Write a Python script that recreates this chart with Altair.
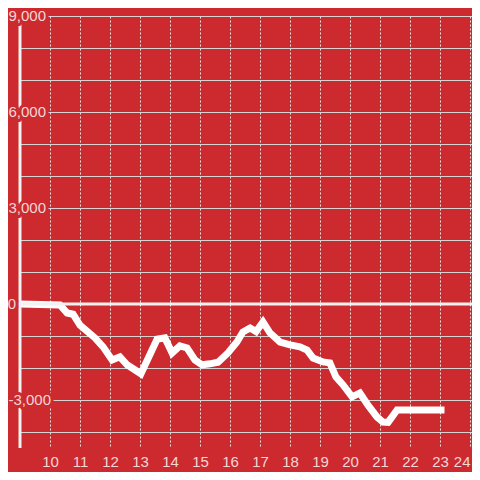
import altair as alt
import pandas as pd

# hours of day and cumulative value
hours = [9.0, 10.33, 10.57, 10.77, 11.0, 11.5, 11.77, 12.07, 12.33, 12.57, 13.03,
         13.57, 13.83, 14.07, 14.33, 14.57, 14.83, 15.07, 15.33, 15.6, 15.93,
         16.23, 16.43, 16.67, 16.87, 17.1, 17.33, 17.67, 18.0, 18.33, 18.57,
         18.77, 19.1, 19.33, 19.53, 19.77, 20.07, 20.33, 20.6, 20.9, 21.1,
         21.27, 21.57, 23.15]
values = [0, -30, -280, -320, -660, -1060, -1340, -1750, -1650, -1900, -2180,
          -1100, -1060, -1530, -1310, -1375, -1750, -1900, -1870, -1820, -1530,
          -1190, -875, -750, -860, -560, -900, -1190, -1280, -1340, -1440,
          -1690, -1810, -1840, -2280, -2530, -2900, -2780, -3160, -3530, -3690,
          -3700, -3310, -3310]

x_ticks = list(range(10, 25))
y_grid = list(range(-4000, 9001, 1000))
y_label_values = [-3000, 0, 3000, 6000, 9000]
y_label_texts = ["-3,000", "0", "3,000", "6,000", "9,000"]

BG = "#cc2a2f"
LBL = "#f3d6d6"
FONT = "Liberation Sans"

df = pd.DataFrame({"hour": hours, "value": values})
labels = pd.DataFrame({"value": y_label_values, "text": y_label_texts})
axis_df = pd.DataFrame({"hour": [9.0], "lo": [-4500], "hi": [9000]})
zero_df = pd.DataFrame({"value": [0]})

xscale = alt.Scale(domain=[9, 24.067], nice=False, zero=False)
yscale = alt.Scale(domain=[-4500, 9000], nice=False, zero=False)

xaxis = alt.Axis(values=x_ticks, grid=True, gridDash=[2, 2],
                 gridColor="#e8e8e8", gridWidth=1, domain=False,
                 ticks=False, labelColor=LBL, labelFontSize=15,
                 labelFont=FONT, labelPadding=13, labelOverlap=False,
                 labelAlign={"condition": {"test": "datum.value == 24", "value": "right"},
                             "value": "center"},
                 labelBaseline="middle", title=None)
yaxis = alt.Axis(values=y_grid, grid=True, gridColor="#d8d2d2",
                 gridWidth=1, labels=False, domain=False,
                 ticks=False, title=None)

line = alt.Chart(df).mark_line(
    color="white", strokeWidth=7, strokeJoin="miter", strokeCap="butt"
).encode(
    x=alt.X("hour:Q", scale=xscale, axis=xaxis),
    y=alt.Y("value:Q", scale=yscale, axis=yaxis),
)

axis_rule = alt.Chart(axis_df).mark_rule(color="#f2f2f2", strokeWidth=3).encode(
    x=alt.X("hour:Q", scale=xscale, axis=xaxis),
    y=alt.Y("lo:Q", scale=yscale, axis=yaxis),
    y2="hi:Q",
)

zero_rule = alt.Chart(zero_df).mark_rule(color="#f2f2f2", strokeWidth=3).encode(
    y=alt.Y("value:Q", scale=yscale, axis=yaxis),
    x=alt.value(-2),
    x2=alt.value(452),
)

def label_layer(filt, xpos):
    halo = alt.Chart(labels).transform_filter(filt).mark_text(
        align="right", baseline="middle", fontSize=15, font=FONT,
        fill=BG, stroke=BG, strokeWidth=6, strokeJoin="round"
    ).encode(y=alt.Y("value:Q", scale=yscale, axis=yaxis), x=alt.value(xpos), text="text:N")
    txt = alt.Chart(labels).transform_filter(filt).mark_text(
        align="right", baseline="middle", fontSize=15, font=FONT, color=LBL
    ).encode(y=alt.Y("value:Q", scale=yscale, axis=yaxis), x=alt.value(xpos), text="text:N")
    return [halo, txt]

layers = [line, axis_rule, zero_rule]
layers += label_layer("datum.value > 0", 26)
layers += label_layer("datum.value == 0", -4)
layers += label_layer("datum.value < 0", 31)

chart = alt.layer(*layers).properties(
    width=452, height=432,
    background=BG,
    padding={"left": 12, "top": 8, "right": 0, "bottom": 24},
    autosize=alt.AutoSizeParams(type="none"),
).configure_view(strokeWidth=0)

chart.save("out.html", embed_options={"renderer": "svg", "actions": False})
